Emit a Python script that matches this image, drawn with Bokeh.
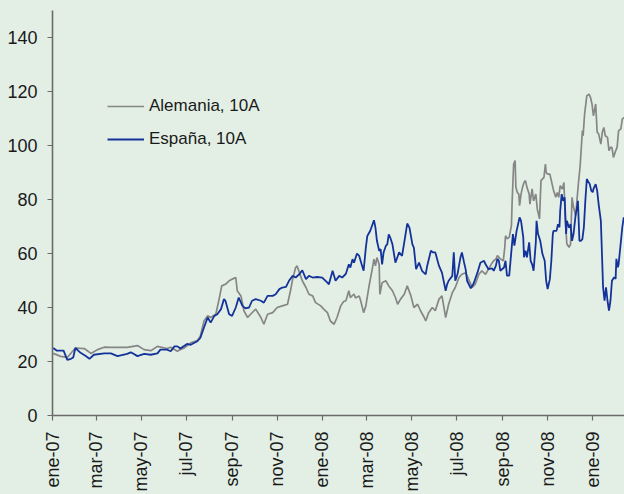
import pandas as pd
from math import pi
from bokeh.plotting import figure
from bokeh.models import (Range1d, FixedTicker, Legend, LegendItem,
                          ColumnDataSource, GlobalInlineStyleSheet)
from bokeh.embed import file_html
from bokeh.resources import INLINE

# ---------------- data ----------------
alemania = [
    ("2007-01-02", 23), ("2007-01-12", 21.9), ("2007-01-21", 21.5), ("2007-02-01", 25),
    ("2007-02-13", 24.8), ("2007-02-22", 23), ("2007-03-03", 24.4), ("2007-03-12", 25.3),
    ("2007-03-21", 25.2), ("2007-03-30", 25.2), ("2007-04-12", 25.2), ("2007-04-26", 25.9),
    ("2007-05-05", 24.4), ("2007-05-14", 24), ("2007-05-23", 25.6), ("2007-06-05", 24.8),
    ("2007-06-10", 25.3), ("2007-06-19", 23.8), ("2007-06-23", 24.4), ("2007-06-28", 25),
    ("2007-07-07", 26.9), ("2007-07-16", 27.8), ("2007-07-20", 29.4), ("2007-07-25", 35),
    ("2007-07-30", 36.9), ("2007-08-03", 36.3), ("2007-08-10", 37.5), ("2007-08-14", 42.5),
    ("2007-08-18", 48), ("2007-08-23", 48.6), ("2007-08-28", 49.9), ("2007-09-01", 50.5),
    ("2007-09-06", 51.1), ("2007-09-08", 46.2), ("2007-09-13", 44.3), ("2007-09-17", 38.8),
    ("2007-09-22", 36.3), ("2007-09-26", 37.5), ("2007-10-03", 39.4), ("2007-10-10", 36.3),
    ("2007-10-14", 33.8), ("2007-10-19", 37.5), ("2007-10-26", 38.1), ("2007-11-01", 40),
    ("2007-11-08", 40.6), ("2007-11-15", 41.2), ("2007-11-19", 46.2), ("2007-11-22", 50.5),
    ("2007-11-26", 54.8), ("2007-11-28", 55.4), ("2007-12-01", 53), ("2007-12-05", 49.9),
    ("2007-12-10", 47.4), ("2007-12-14", 44.9), ("2007-12-19", 44.3), ("2007-12-23", 41.8),
    ("2007-12-30", 40.6), ("2008-01-03", 39.4), ("2008-01-08", 38.1), ("2008-01-12", 35),
    ("2008-01-17", 33.8), ("2008-01-21", 36.3), ("2008-01-26", 40.6), ("2008-01-30", 42.2),
    ("2008-02-02", 42.5), ("2008-02-06", 46.2), ("2008-02-08", 43.7), ("2008-02-13", 45),
    ("2008-02-15", 43.5), ("2008-02-20", 44.3), ("2008-02-22", 42.5), ("2008-02-26", 38.1),
    ("2008-02-29", 40.6), ("2008-03-04", 47.4), ("2008-03-09", 54.8), ("2008-03-11", 57.9),
    ("2008-03-13", 55.4), ("2008-03-15", 58.5), ("2008-03-18", 56), ("2008-03-19", 44.9),
    ("2008-03-22", 49.2), ("2008-03-27", 49.9), ("2008-03-31", 48), ("2008-04-05", 46.2),
    ("2008-04-09", 43.7), ("2008-04-12", 41.2), ("2008-04-16", 43.1), ("2008-04-21", 44.9),
    ("2008-04-25", 48), ("2008-04-30", 44.3), ("2008-05-04", 40), ("2008-05-09", 41.2),
    ("2008-05-13", 38.8), ("2008-05-18", 36.3), ("2008-05-20", 35), ("2008-05-24", 38.1),
    ("2008-05-29", 40), ("2008-06-02", 38.8), ("2008-06-07", 43.1), ("2008-06-11", 44.3),
    ("2008-06-16", 36.3), ("2008-06-20", 41.2), ("2008-06-25", 45.5), ("2008-06-29", 47.4),
    ("2008-07-04", 51.1), ("2008-07-08", 52.3), ("2008-07-13", 52.9), ("2008-07-17", 50.5),
    ("2008-07-22", 47.4), ("2008-07-26", 48.6), ("2008-07-31", 52.3), ("2008-08-04", 53.6),
    ("2008-08-09", 52.3), ("2008-08-13", 54.2), ("2008-08-18", 56.6), ("2008-08-20", 57.3),
    ("2008-08-23", 57.9), ("2008-08-25", 59.2), ("2008-08-29", 58), ("2008-09-02", 57.3),
    ("2008-09-04", 62.3), ("2008-09-05", 66.6), ("2008-09-07", 65.5), ("2008-09-10", 66),
    ("2008-09-13", 70.3), ("2008-09-14", 79.5), ("2008-09-16", 93.1), ("2008-09-18", 94.4),
    ("2008-09-19", 84.5), ("2008-09-21", 82.6), ("2008-09-23", 82), ("2008-09-24", 77.7),
    ("2008-09-26", 82), ("2008-09-28", 84.5), ("2008-09-30", 86.3), ("2008-10-02", 87),
    ("2008-10-04", 84.5), ("2008-10-07", 82), ("2008-10-08", 78.3), ("2008-10-11", 83.9),
    ("2008-10-13", 79.5), ("2008-10-16", 82), ("2008-10-18", 76.5), ("2008-10-21", 72.8),
    ("2008-10-23", 87), ("2008-10-27", 88.2), ("2008-10-29", 93.1), ("2008-10-30", 90),
    ("2008-11-01", 89.4), ("2008-11-04", 89.4), ("2008-11-06", 87), ("2008-11-09", 83.3),
    ("2008-11-12", 80.8), ("2008-11-14", 82.6), ("2008-11-16", 80.8), ("2008-11-18", 85.1),
    ("2008-11-21", 83.9), ("2008-11-23", 86.3), ("2008-11-25", 72.1), ("2008-11-27", 63.5),
    ("2008-11-30", 62.3), ("2008-12-02", 63.5), ("2008-12-04", 80.8), ("2008-12-06", 77.1),
    ("2008-12-09", 74), ("2008-12-11", 80.8), ("2008-12-13", 87), ("2008-12-15", 92.5),
    ("2008-12-18", 105.5), ("2008-12-19", 103.6), ("2008-12-21", 111.6), ("2008-12-24", 118.4),
    ("2008-12-27", 119), ("2008-12-29", 117.8), ("2008-12-31", 115.4), ("2009-01-02", 111),
    ("2009-01-05", 115.4), ("2009-01-07", 104.9), ("2009-01-09", 104.3), ("2009-01-12", 100.5),
    ("2009-01-14", 104.9), ("2009-01-16", 106.7), ("2009-01-18", 103.6), ("2009-01-21", 103),
    ("2009-01-23", 98.1), ("2009-01-25", 99.3), ("2009-01-27", 99.3), ("2009-01-29", 95.6),
    ("2009-02-01", 98), ("2009-02-03", 99.3), ("2009-02-05", 105.5), ("2009-02-08", 106.1),
    ("2009-02-10", 109.8), ("2009-02-13", 110.4),
]

espana = [
    ("2007-01-02", 25), ("2007-01-07", 24), ("2007-01-16", 24), ("2007-01-21", 20.6),
    ("2007-01-26", 21), ("2007-01-29", 21.5), ("2007-02-01", 25), ("2007-02-08", 23.2),
    ("2007-02-15", 22), ("2007-02-20", 21), ("2007-02-26", 22.5), ("2007-03-12", 23),
    ("2007-03-21", 23), ("2007-03-30", 22), ("2007-04-12", 22.8), ("2007-04-17", 23.4),
    ("2007-04-26", 22), ("2007-05-05", 22.8), ("2007-05-14", 22.5), ("2007-05-23", 23),
    ("2007-05-27", 24.4), ("2007-06-05", 24.4), ("2007-06-10", 23.8), ("2007-06-15", 25.6),
    ("2007-06-19", 25.6), ("2007-06-23", 24.8), ("2007-07-02", 26.5), ("2007-07-07", 26.2),
    ("2007-07-16", 27.5), ("2007-07-20", 28.7), ("2007-07-25", 32.6), ("2007-07-30", 36.3),
    ("2007-08-03", 34.4), ("2007-08-08", 36.9), ("2007-08-12", 37.5), ("2007-08-17", 39.4),
    ("2007-08-21", 43.1), ("2007-08-23", 42.5), ("2007-08-28", 37.5), ("2007-09-01", 36.9),
    ("2007-09-06", 40), ("2007-09-10", 43.7), ("2007-09-15", 40.6), ("2007-09-19", 39.7),
    ("2007-09-24", 40), ("2007-09-28", 42.5), ("2007-10-03", 43.1), ("2007-10-10", 42.5),
    ("2007-10-14", 41.8), ("2007-10-19", 44.3), ("2007-10-26", 44.3), ("2007-10-30", 44.9),
    ("2007-11-04", 46.8), ("2007-11-08", 47.4), ("2007-11-13", 47.6), ("2007-11-17", 49.9),
    ("2007-11-22", 51.7), ("2007-11-26", 51.1), ("2007-12-01", 52.3), ("2007-12-05", 53.8),
    ("2007-12-10", 50.5), ("2007-12-14", 51.7), ("2007-12-19", 51.1), ("2007-12-25", 51.3),
    ("2008-01-01", 51.1), ("2008-01-08", 49.2), ("2008-01-10", 48.6), ("2008-01-15", 53.6),
    ("2008-01-19", 49.9), ("2008-01-24", 51.7), ("2008-01-28", 51.1), ("2008-02-02", 52.5),
    ("2008-02-06", 56), ("2008-02-08", 54.8), ("2008-02-11", 57.9), ("2008-02-13", 56.6),
    ("2008-02-17", 60), ("2008-02-20", 59.1), ("2008-02-24", 55.4), ("2008-02-26", 53.6),
    ("2008-02-29", 62.2), ("2008-03-02", 66.5), ("2008-03-06", 68.4), ("2008-03-11", 72.3),
    ("2008-03-13", 69.6), ("2008-03-15", 64.7), ("2008-03-18", 61), ("2008-03-20", 61.6),
    ("2008-03-22", 56), ("2008-03-24", 60.4), ("2008-03-27", 62.8), ("2008-03-29", 63.4),
    ("2008-03-31", 67.1), ("2008-04-02", 65.9), ("2008-04-05", 63.4), ("2008-04-09", 56.6),
    ("2008-04-14", 60.4), ("2008-04-18", 59.1), ("2008-04-22", 65.9), ("2008-04-25", 71.1),
    ("2008-04-28", 69.6), ("2008-05-02", 63.4), ("2008-05-04", 62.2), ("2008-05-07", 54.2),
    ("2008-05-11", 56.6), ("2008-05-15", 53.6), ("2008-05-20", 52.3), ("2008-05-22", 55.4),
    ("2008-05-27", 61), ("2008-05-30", 60.4), ("2008-06-02", 60.4), ("2008-06-07", 55.4),
    ("2008-06-11", 52.9), ("2008-06-16", 46.2), ("2008-06-18", 48.6), ("2008-06-20", 49.9),
    ("2008-06-25", 51.7), ("2008-06-27", 60.4), ("2008-06-29", 49.9), ("2008-07-02", 52.3),
    ("2008-07-06", 58.5), ("2008-07-08", 60.4), ("2008-07-11", 56.6), ("2008-07-13", 54.2),
    ("2008-07-15", 49.9), ("2008-07-20", 47.1), ("2008-07-24", 49), ("2008-07-29", 52.9),
    ("2008-08-02", 56.6), ("2008-08-07", 57.3), ("2008-08-09", 56), ("2008-08-13", 54.2),
    ("2008-08-18", 54.5), ("2008-08-20", 53.6), ("2008-08-23", 55.5), ("2008-08-25", 58),
    ("2008-08-27", 57.3), ("2008-08-29", 53.6), ("2008-09-03", 54.8), ("2008-09-05", 57.3),
    ("2008-09-07", 51.8), ("2008-09-10", 51.8), ("2008-09-12", 58), ("2008-09-14", 64.1),
    ("2008-09-15", 67.2), ("2008-09-17", 62.9), ("2008-09-20", 68.4), ("2008-09-23", 72.1),
    ("2008-09-24", 73.4), ("2008-09-26", 72.1), ("2008-09-29", 66), ("2008-09-30", 58.6),
    ("2008-10-02", 61), ("2008-10-04", 58.6), ("2008-10-07", 64.1), ("2008-10-09", 57.3),
    ("2008-10-11", 56), ("2008-10-13", 53.6), ("2008-10-16", 64.1), ("2008-10-17", 72.1),
    ("2008-10-19", 67.2), ("2008-10-22", 64.7), ("2008-10-25", 59.8), ("2008-10-28", 57.3),
    ("2008-10-30", 49.9), ("2008-11-01", 46.8), ("2008-11-04", 50.5), ("2008-11-06", 57.3),
    ("2008-11-08", 67.2), ("2008-11-09", 68.4), ("2008-11-13", 68.4), ("2008-11-15", 70.9),
    ("2008-11-17", 69.7), ("2008-11-18", 75.8), ("2008-11-20", 82), ("2008-11-22", 79.5),
    ("2008-11-24", 80.8), ("2008-11-26", 67.2), ("2008-11-27", 72.1), ("2008-11-30", 69.5),
    ("2008-12-02", 70.9), ("2008-12-04", 64.7), ("2008-12-06", 67.2), ("2008-12-09", 74.6),
    ("2008-12-10", 75.8), ("2008-12-12", 79.5), ("2008-12-14", 64.7), ("2008-12-16", 64.7),
    ("2008-12-18", 65.3), ("2008-12-20", 69.7), ("2008-12-22", 79.5), ("2008-12-24", 87.6),
    ("2008-12-25", 87), ("2008-12-28", 85.7), ("2008-12-30", 83.3), ("2009-01-01", 82.7),
    ("2009-01-02", 83.9), ("2009-01-05", 85.7), ("2009-01-07", 83.3), ("2009-01-09", 78.3),
    ("2009-01-12", 72.1), ("2009-01-13", 64.1), ("2009-01-15", 47.5), ("2009-01-17", 42.5),
    ("2009-01-19", 47.5), ("2009-01-21", 42.5), ("2009-01-23", 38.8), ("2009-01-25", 42.5),
    ("2009-01-27", 49.9), ("2009-01-30", 51.2), ("2009-02-01", 50.6), ("2009-02-02", 58),
    ("2009-02-04", 54.9), ("2009-02-05", 56), ("2009-02-08", 64.1), ("2009-02-10", 69.7),
    ("2009-02-12", 73.4), ("2009-02-13", 72.1),
]

tick_fechas = ["2007-01-01", "2007-03-01", "2007-05-01", "2007-07-01", "2007-09-01",
               "2007-11-01", "2008-01-01", "2008-03-01", "2008-05-01", "2008-07-01",
               "2008-09-01", "2008-11-01", "2009-01-01"]
tick_etiquetas = ["ene-07", "mar-07", "may-07", "jul-07", "sep-07", "nov-07", "ene-08",
                  "mar-08", "may-08", "jul-08", "sep-08", "nov-08", "ene-09"]
y_ticks = [0, 20, 40, 60, 80, 100, 120, 140]
series_labels = ["Alemania, 10A", "España, 10A"]

# ---------------- styling ----------------
BG = "#e3efe5"
FONT = "Liberation Sans"
AXIS_COLOR = "#6a6a6a"

p = figure(x_axis_type="datetime", output_backend="svg", toolbar_location=None,
           width=624, height=494,
           min_border_left=52, min_border_right=0, min_border_top=10, min_border_bottom=79,
           x_range=Range1d(pd.Timestamp("2007-01-01"), pd.Timestamp("2009-02-13")),
           y_range=Range1d(0, 150))
p.background_fill_color = BG
p.border_fill_color = BG
p.outline_line_color = None
p.grid.visible = False
p.stylesheets = [GlobalInlineStyleSheet(css=f"body{{background:{BG};}}")]

src_a = ColumnDataSource(dict(x=pd.to_datetime([d for d, _ in alemania]),
                              y=[v for _, v in alemania]))
src_e = ColumnDataSource(dict(x=pd.to_datetime([d for d, _ in espana]),
                              y=[v for _, v in espana]))
r_a = p.line("x", "y", source=src_a, line_color="#868686", line_width=1.7)
r_e = p.line("x", "y", source=src_e, line_color="#14339a", line_width=1.8)

# x axis
tick_ms = [float(pd.Timestamp(d).value // 10**6) for d in tick_fechas]
xa = p.xaxis[0]
xa.ticker = FixedTicker(ticks=tick_ms)
xa.major_label_overrides = {t: l for t, l in zip(tick_ms, tick_etiquetas)}
xa.major_label_orientation = pi / 2
xa.minor_tick_line_color = None
xa.major_tick_in = 0
xa.major_tick_out = 5
xa.major_label_standoff = 11

# y axis
ya = p.yaxis[0]
ya.ticker = FixedTicker(ticks=y_ticks)
ya.minor_tick_line_color = None
ya.major_tick_in = 0
ya.major_tick_out = 5
ya.major_label_standoff = 10

for ax in (xa, ya):
    ax.axis_line_color = AXIS_COLOR
    ax.axis_line_width = 1.6
    ax.major_tick_line_color = AXIS_COLOR
    ax.major_tick_line_width = 1.2
    ax.major_label_text_font = FONT
    ax.major_label_text_font_size = "18px"
    ax.major_label_text_color = "#1a1a1a"

legend = Legend(items=[LegendItem(label=series_labels[0], renderers=[r_a]),
                       LegendItem(label=series_labels[1], renderers=[r_e])],
                location=(55, 266), border_line_color=None, background_fill_alpha=0,
                label_text_font=FONT, label_text_font_size="17px",
                label_text_color="#1a1a1a",
                glyph_width=37, glyph_height=20, label_height=20, label_standoff=5,
                spacing=13, padding=0, margin=0)
p.add_layout(legend)

open("out.html", "w").write(file_html(p, INLINE))
